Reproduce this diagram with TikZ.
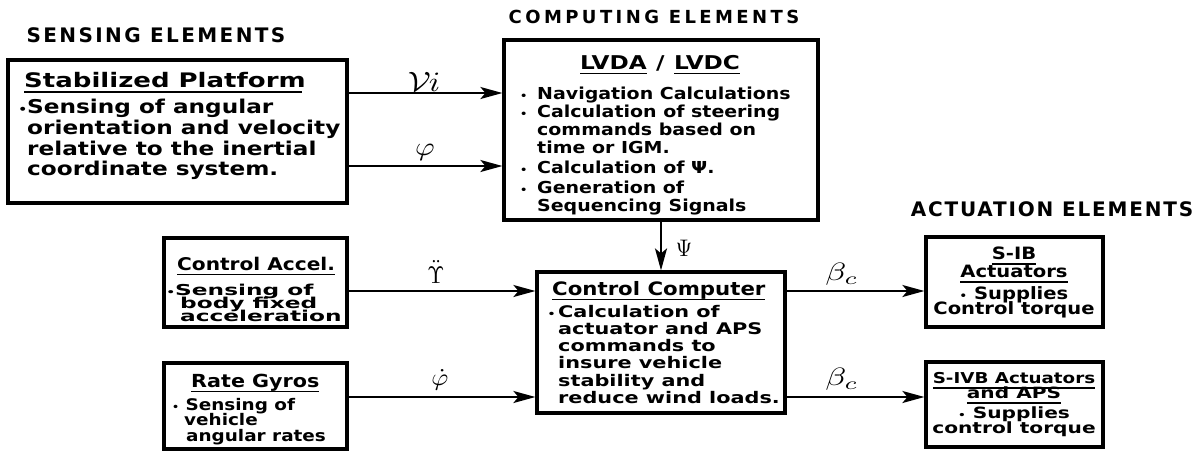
\documentclass[tikz,border=0pt]{standalone}
\usepackage{fontspec}
\usepackage{graphicx}
\setmainfont{DejaVu Sans}
\newfontfamily\hf[FakeStretch=1.15]{DejaVu Sans}
\newfontfamily\hfB[FakeStretch=1.22]{DejaVu Sans}
\newfontfamily\hfC[FakeStretch=1.3]{DejaVu Sans}
\newfontfamily\hfw[FakeStretch=1.55]{DejaVu Sans}
\newfontfamily\tf{DejaVu Sans}
\usetikzlibrary{arrows.meta}
\lineskiplimit=-50pt
\newcommand\ulx[1]{\setbox0\hbox{#1}\rlap{\vrule height -3.5pt depth 5.4pt width\wd0}\box0}
\newcommand\ulw[2]{\setbox0\hbox{#2}\rlap{\vrule height -4pt depth 6pt width #1}\box0}
\newcommand\bul{\scalebox{0.6}{\textbullet}}
\newcommand\bl{\makebox[17pt][l]{\bul}}
\newcommand\ind{\hspace*{17pt}}
\tikzset{
  box/.style={draw, line width=3.2pt, inner sep=0pt},
  txt/.style={inner sep=0pt},
  ttl/.style={inner sep=0pt, anchor=base},
  lbl/.style={inner sep=0pt},
  conn/.style={line width=2pt, -{Stealth[length=22pt,width=12pt,inset=5pt]}}
}
\begin{document}
\begin{tikzpicture}[x=1pt,y=-1pt]
\useasboundingbox (0,0) rectangle (1203,451);
% titles
\node[ttl, font=\tf\bfseries\fontsize{20}{20}\selectfont\addfontfeature{LetterSpace=12}] (tsense) at (156,42) {SENSING ELEMENTS};
\node[ttl, font=\tf\bfseries\fontsize{18}{20}\selectfont\addfontfeature{LetterSpace=19}] (tcomp) at (654,23) {COMPUTING ELEMENTS};
\node[ttl, font=\tf\bfseries\fontsize{20}{22}\selectfont\addfontfeature{LetterSpace=9}] (tact) at (1052,216) {ACTUATION ELEMENTS};
% boxes
\node[box, minimum width=339pt, minimum height=143pt] (sp) at (177.5,131.5) {};
\node[box, minimum width=314pt, minimum height=180pt] (lvda) at (661,130) {};
\node[box, minimum width=248pt, minimum height=141pt] (cc) at (661,342.5) {};
\node[box, minimum width=183pt, minimum height=89pt] (ca) at (255.5,282.5) {};
\node[box, minimum width=183pt, minimum height=86pt] (rg) at (255.5,406) {};
\node[box, minimum width=177pt, minimum height=90pt] (sib) at (1014.5,282) {};
\node[box, minimum width=177pt, minimum height=85pt] (sivb) at (1014.5,404.5) {};
% Stabilized platform
\node[txt, anchor=base west, font=\hfC\bfseries\fontsize{20}{22}\selectfont] (sph) at (24,87) {\ulw{278pt}{Stabilized Platform}};
\node[txt, anchor=north west, align=left, font=\hfB\bfseries\fontsize{19}{20.7}\selectfont] (spb) at (27,99) {\llap{\bul}Sensing of angular\\orientation and velocity\\relative to the inertial\\coordinate system.};
% LVDA
\node[txt, anchor=base, font=\hfB\bfseries\fontsize{19}{20}\selectfont] (lvh) at (660,69) {\ulx{LVDA}\enspace/\enspace\ulx{LVDC}};
\node[txt, anchor=north west, align=left, font=\hf\bfseries\fontsize{16.5}{18}\selectfont] (lvb) at (520,87) {\bl Navigation Calculations\\\bl Calculation of steering\\\ind commands based on\\\ind time or IGM.\\[2pt]\bl Calculation of Ψ.\\[2pt]\bl Generation of\\\ind Sequencing Signals};
% Control computer
\node[txt, anchor=base west, font=\hf\bfseries\fontsize{18.5}{20}\selectfont] (cch) at (552,295) {\ulx{Control Computer}};
\node[txt, anchor=north west, align=left, font=\hfC\bfseries\fontsize{16}{17.2}\selectfont] (ccb) at (558,305) {\llap{\bul\,}Calculation of\\actuator and APS\\commands to\\insure vehicle\\stability and\\reduce wind loads.};
% Control accel
\node[txt, anchor=base west, font=\hf\bfseries\fontsize{17.5}{18}\selectfont] (cah) at (177,270) {\ulx{Control Accel.}};
\node[txt, anchor=north west, align=left, font=\hfw\bfseries\fontsize{15}{13}\selectfont] (cab) at (175,284) {\llap{\bul}Sensing of\\\hspace*{5pt}body fixed\\\hspace*{5pt}acceleration};
% Rate gyros
\node[txt, anchor=base west, font=\hf\bfseries\fontsize{18}{18}\selectfont] (rgh) at (191,387) {\ulx{Rate Gyros}};
\node[txt, anchor=north west, align=left, font=\hf\bfseries\fontsize{16}{15.5}\selectfont] (rgb) at (172,398) {\bul\ Sensing of\\\hspace*{12pt}vehicle\\\hspace*{14pt}angular rates};
% S-IB
\node[txt, anchor=north, align=center, font=\hf\bfseries\fontsize{17}{17}\selectfont] (sibt) at (1014,247) {\ulx{S-IB}\\[1pt]\ulx{Actuators}\\[5pt]\bul\ Supplies\\[-2pt]Control torque};
% S-IVB
\node[txt, anchor=north, align=center, font=\hfC\bfseries\fontsize{15.5}{15}\selectfont] (sivbt) at (1014,372) {{\hfB\bfseries\fontsize{15}{15}\selectfont\ulx{S-IVB Actuators}}\\\ulx{and APS}\\[5pt]\bul\ Supplies\\control torque};
% helper coordinates
\coordinate (y93) at (0,93);
\coordinate (y166) at (0,166);
\coordinate (y291) at (0,291);
\coordinate (y397) at (0,397);
% connectors
\draw[conn] (sp.east |- y93) -- (lvda.west |- y93);
\draw[conn] (sp.east |- y166) -- (lvda.west |- y166);
\draw[conn] (lvda) -- (cc);
\draw[conn] (ca.east |- y291) -- (cc.west |- y291);
\draw[conn] (rg.east |- y397) -- (cc.west |- y397);
\draw[conn] (cc.east |- y291) -- (sib.west |- y291);
\draw[conn] (cc.east |- y397) -- (sivb.west |- y397);
% labels
\node[lbl] (lvi) at (424,82) {\scalebox{3.3}[2.8]{$\mathcal{V}\mkern-1mu i$}};
\node[lbl] (lphi) at (425,152) {\scalebox{3}[2.6]{$\varphi$}};
\node[lbl] (lups) at (436,272) {\scalebox{2.2}[2.4]{$\ddot{\Upsilon}$}};
\node[lbl] (lphid) at (440,380) {\scalebox{2.6}[2.4]{$\dot{\varphi}$}};
\node[lbl] (lpsi) at (684,248) {\scalebox{2.1}[2.4]{$\Psi$}};
\node[lbl] (lb1) at (842,274) {\scalebox{3.4}[2.5]{$\beta_c$}};
\node[lbl] (lb2) at (842,379) {\scalebox{3.4}[2.5]{$\beta_c$}};
\end{tikzpicture}
\end{document}
